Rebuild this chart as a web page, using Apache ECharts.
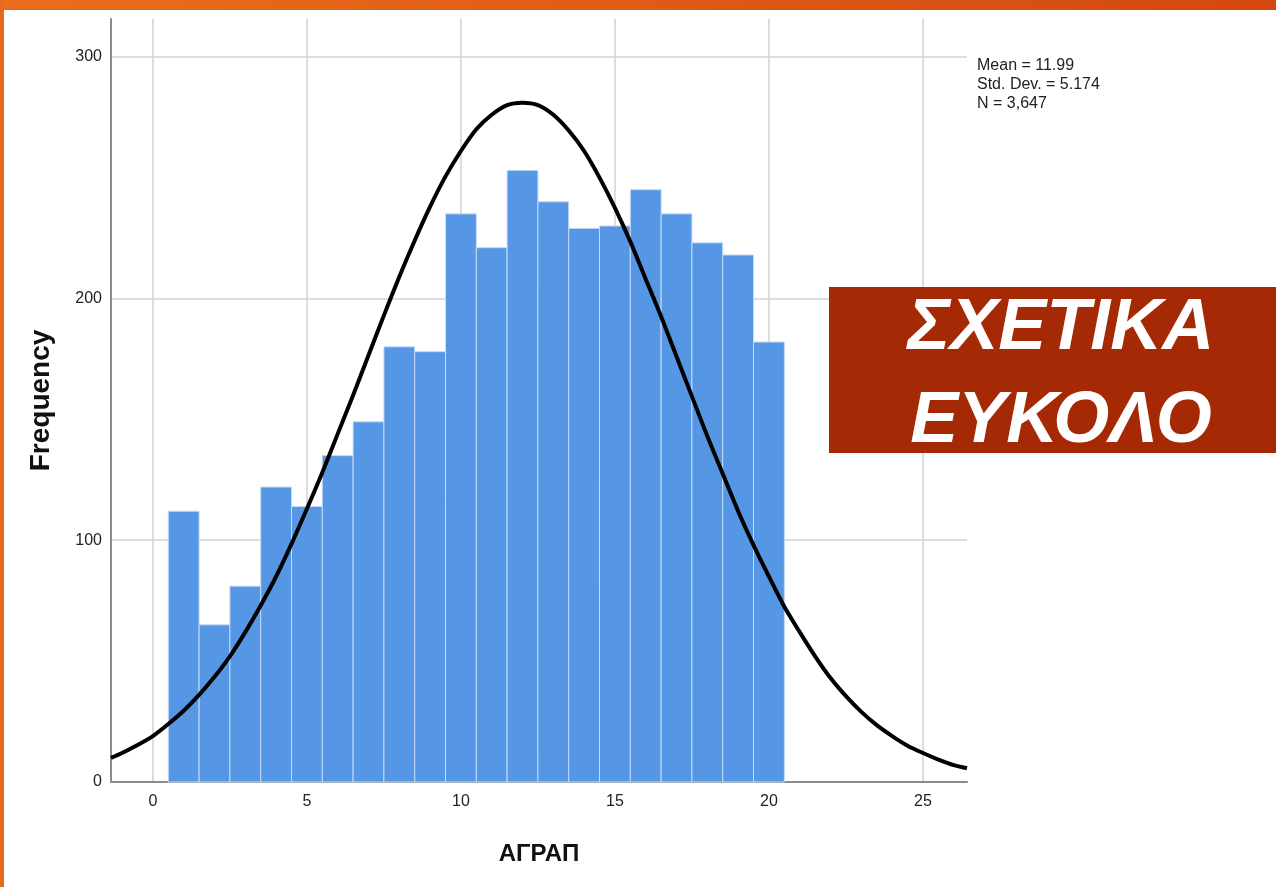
<!DOCTYPE html>
<html>
<head>
<meta charset="utf-8">
<script src="https://cdn.jsdelivr.net/npm/echarts@6/dist/echarts.min.js"></script>
<style>
html,body{margin:0;padding:0;background:#fff;}
#chart{width:1276px;height:887px;}
</style>
</head>
<body>
<div id="chart"></div>
<script>
// ---- data ----
const binCenters = [1,2,3,4,5,6,7,8,9,10,11,12,13,14,15,16,17,18,19,20];
const frequencies = [112,65,81,122,114,135,149,180,178,235,221,253,240,229,230,245,235,223,218,182];
const binWidth = 1;
const curveX = [-1.36,-1,-0.5,0,0.5,1,1.5,2,2.5,3,3.5,4,4.5,5,5.5,6,6.5,7,7.5,8,8.5,9,9.5,10,10.5,11,11.5,12,12.5,13,13.5,14,14.5,15,15.5,16,16.5,17,17.5,18,18.5,19,19.5,20,20.5,21,21.5,22,22.5,23,23.5,24,24.5,25,25.5,26,26.43];
const curveY = [10,12,15.3,19,24,29.5,36,43.5,52,62,73,85,98.5,113,128,144,160,176.5,193,209,224,238,250.5,261,270,276,280,281,280,276,269.5,261,250,237.5,223.5,208,192.5,176,159.5,143,127.5,112,98,85,72.5,62,52,43,35.5,29,23.5,19,15,12,9.3,7,5.7];
const xTicks = [0,5,10,15,20,25];
const yTicks = [0,100,200,300];
const statsLines = ['Mean = 11.99','Std. Dev. = 5.174','N = 3,647'];
const xTitle = 'ΑΓΡΑΠ';
const yTitle = 'Frequency';
const bannerText = ['ΣΧΕΤΙΚΑ','ΕΥΚΟΛΟ'];

const SANS = "'Liberation Sans',Arial,sans-serif";

const chart = echarts.init(document.getElementById('chart'), null, {renderer:'canvas'});

const histData = binCenters.map((c,i)=>[c, frequencies[i]]);
const curveData = curveX.map((x,i)=>[x, curveY[i]]);

const option = {
  animation:false,
  backgroundColor:'#ffffff',
  grid:{left:111, right:309, top:19, bottom:105, containLabel:false},
  xAxis:{
    type:'value', min:-1.36, max:26.43,
    axisLine:{show:true, onZero:false, lineStyle:{color:'#8c8c8c', width:2}},
    axisTick:{show:false, customValues:xTicks},
    axisLabel:{customValues:xTicks, color:'#222', fontFamily:SANS, fontSize:16, margin:12},
    splitLine:{show:true, lineStyle:{color:'#d2d2d2', width:1.5}},
    name:xTitle, nameLocation:'middle', nameGap:60,
    nameTextStyle:{fontFamily:SANS, fontSize:24, fontWeight:'bold', color:'#111'}
  },
  yAxis:{
    type:'value', min:0, max:315.6,
    axisLine:{show:true, onZero:false, lineStyle:{color:'#8c8c8c', width:2}},
    axisTick:{show:false, customValues:yTicks},
    axisLabel:{customValues:yTicks, color:'#222', fontFamily:SANS, fontSize:16, margin:9},
    splitLine:{show:true, lineStyle:{color:'#d2d2d2', width:1.5}},
    name:yTitle, nameLocation:'middle', nameGap:56, nameRotate:90,
    nameTextStyle:{fontFamily:SANS, fontSize:28, fontWeight:'bold', color:'#111'}
  },
  series:[
    {
      type:'custom',
      data:histData,
      z:2,
      renderItem:function(params, api){
        const c = api.value(0), f = api.value(1);
        const p0 = api.coord([c-binWidth/2, f]);
        const p1 = api.coord([c+binWidth/2, 0]);
        return {
          type:'rect',
          shape:{x:p0[0], y:p0[1], width:p1[0]-p0[0], height:p1[1]-p0[1]},
          style:{fill:'#5596e5', stroke:'#c6daf5', lineWidth:1}
        };
      }
    },
    {
      type:'line',
      data:curveData,
      smooth:0.25,
      showSymbol:false,
      z:3,
      lineStyle:{color:'#000', width:4, join:'round'},
      clip:true
    }
  ],
  graphic:[
    {type:'rect', left:0, top:0, shape:{width:1276, height:10}, z:100,
     style:{fill:new echarts.graphic.LinearGradient(0,0,1,0,[{offset:0,color:'#ea6e1e'},{offset:1,color:'#d4480f'}])}},
    {type:'rect', left:0, top:0, shape:{width:4, height:887}, z:100, style:{fill:'#e8681c'}},
    {type:'text', left:977, top:56, z:100,
     style:{text:statsLines.join('\n'), font:'16px ' + SANS, lineHeight:19, fill:'#222'}},
    {type:'rect', left:829, top:287, shape:{width:447, height:166}, z:100, style:{fill:'#a62906'}},
    {type:'text', z:101, x:1061, y:376,
     style:{text:bannerText.join('\n'), fill:'#fff', font:'italic bold 72px ' + SANS,
            lineHeight:93, align:'center', verticalAlign:'middle'}}
  ]
};
chart.setOption(option);
</script>
</body>
</html>
